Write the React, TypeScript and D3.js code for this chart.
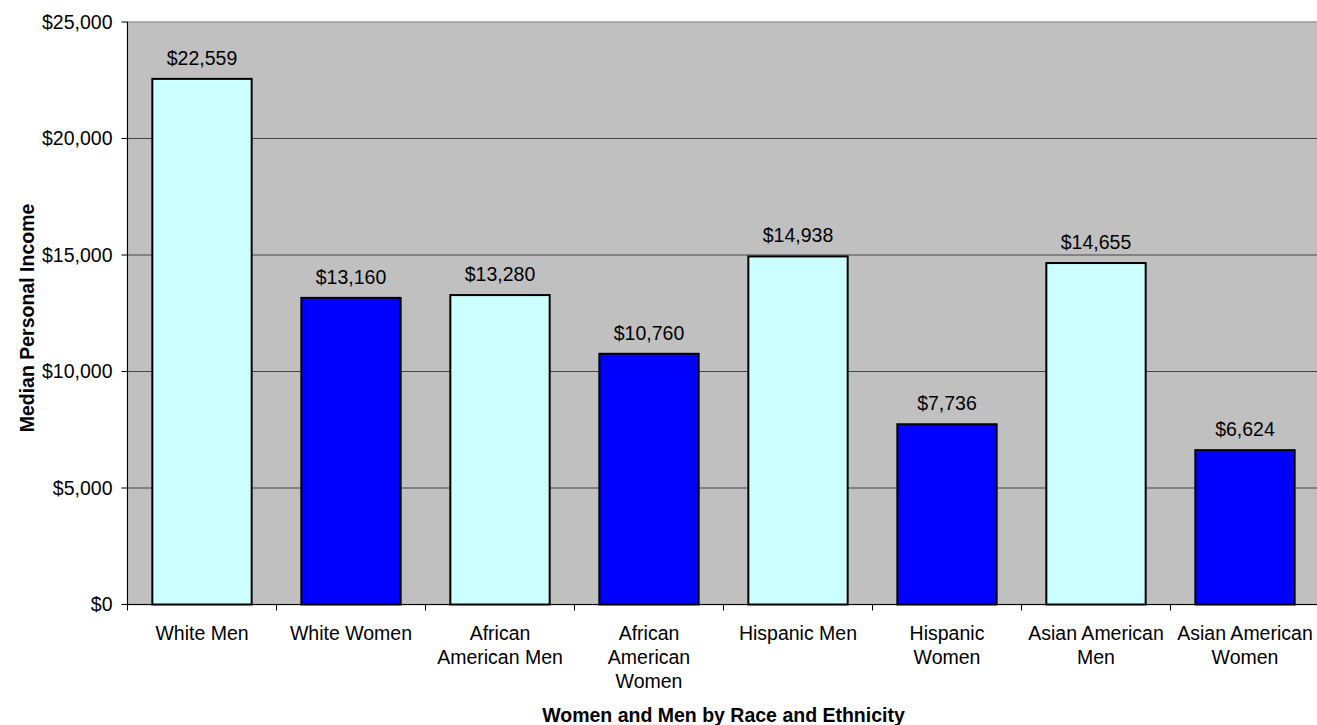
import React from "react";
import * as d3 from "d3";

const categories = [
  ["White Men"],
  ["White Women"],
  ["African", "American Men"],
  ["African", "American", "Women"],
  ["Hispanic Men"],
  ["Hispanic", "Women"],
  ["Asian American", "Men"],
  ["Asian American", "Women"],
];
const values = [22559, 13160, 13280, 10760, 14938, 7736, 14655, 6624];
const genders = ["men", "women", "men", "women", "men", "women", "men", "women"];
const yTicks = [0, 5000, 10000, 15000, 20000, 25000];

const W = 1317;
const H = 725;
const left = 127.5;
const top = 22;
const bottom = 604.5;
const right = left + 8 * 149;

export default function App() {
  const x = d3
    .scaleBand<number>()
    .domain(values.map((_, i) => i))
    .range([left, right])
    .paddingInner(1 / 3)
    .paddingOuter(1 / 6);
  const y = d3.scaleLinear().domain([0, 25000]).range([bottom, top]);
  const fmt = d3.format("$,");
  const font = "'Liberation Sans', Arial, sans-serif";
  const step = x.step();
  const fs = 19.5;
  return (
    <svg
      width={W}
      height={H}
      style={{ position: "absolute", left: 0, top: 0, display: "block" }}
      fontFamily={font}
    >
      <rect x={0} y={0} width={W} height={H} fill="#fff" />
      <rect x={left} y={top} width={right - left} height={bottom - top} fill="#c0c0c0" stroke="#999999" strokeWidth={1.5} />
      {yTicks.slice(1, -1).map((t) => (
        <line key={t} x1={left} x2={right} y1={y(t)} y2={y(t)} stroke="#444" strokeWidth={1} />
      ))}
      {values.map((v, i) => (
        <g key={i}>
          <rect
            x={x(i)}
            y={y(v)}
            width={x.bandwidth()}
            height={bottom - y(v)}
            fill={genders[i] === "men" ? "#ccffff" : "#0000ff"}
            stroke="#000"
            strokeWidth={2}
          />
          <text
            x={(x(i) as number) + x.bandwidth() / 2}
            y={y(v) - 14}
            textAnchor="middle"
            fontSize={fs}
            fill="#000"
          >
            {fmt(v)}
          </text>
        </g>
      ))}
      <line x1={left} x2={left} y1={top} y2={bottom} stroke="#000" strokeWidth={1} />
      <line x1={left} x2={right} y1={bottom} y2={bottom} stroke="#000" strokeWidth={1} />
      {yTicks.map((t) => (
        <g key={t}>
          <line x1={left - 6} x2={left} y1={y(t)} y2={y(t)} stroke="#000" />
          <text x={left - 15} y={y(t)} dy="0.35em" textAnchor="end" fontSize={fs} fill="#000">
            {fmt(t)}
          </text>
        </g>
      ))}
      {d3.range(9).map((k) => (
        <line key={k} x1={left + k * step} x2={left + k * step} y1={bottom} y2={bottom + 6} stroke="#000" />
      ))}
      {categories.map((lines, i) => (
        <text
          key={i}
          x={(x(i) as number) + x.bandwidth() / 2}
          y={640}
          textAnchor="middle"
          fontSize={fs}
          fill="#000"
        >
          {lines.map((l, j) => (
            <tspan key={j} x={(x(i) as number) + x.bandwidth() / 2} dy={j === 0 ? 0 : 24}>
              {l}
            </tspan>
          ))}
        </text>
      ))}
      <text x={(left + right) / 2} y={722} textAnchor="middle" fontSize={fs} fontWeight="bold" fill="#000">
        Women and Men by Race and Ethnicity
      </text>
      <text
        transform={`translate(34, 318) rotate(-90)`}
        textAnchor="middle"
        fontSize={fs}
        fontWeight="bold"
        fill="#000"
      >
        Median Personal Income
      </text>
    </svg>
  );
}
